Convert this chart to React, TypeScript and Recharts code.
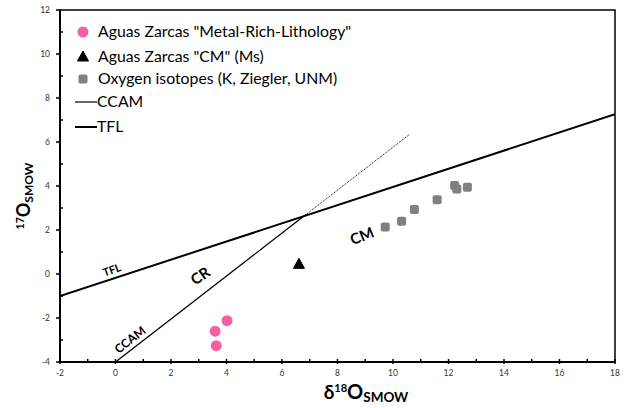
import React from 'react';
import { ScatterChart, Scatter, XAxis, YAxis, ReferenceArea } from 'recharts';

const xTicks = [-2, -1, 0, 1, 2, 3, 4, 5, 6, 7, 8, 9, 10, 11, 12, 13, 14, 15, 16, 17, 18];
const yTicks = [-4, -3, -2, -1, 0, 1, 2, 3, 4, 5, 6, 7, 8, 9, 10, 11, 12];

const metalRich = [
  { x: 3.59, y: -2.6 },
  { x: 3.63, y: -3.26 },
  { x: 4.02, y: -2.12 },
];
const cmMs = [{ x: 6.61, y: 0.44 }];
const oxygen = [
  { x: 9.72, y: 2.14 },
  { x: 10.31, y: 2.4 },
  { x: 10.77, y: 2.93 },
  { x: 11.59, y: 3.38 },
  { x: 12.22, y: 4.02 },
  { x: 12.3, y: 3.86 },
  { x: 12.68, y: 3.94 },
];
const ccamSolid = [
  { x: 0, y: -4 },
  { x: 6.85, y: 2.69 },
];
const ccamDotted = [
  { x: 6.85, y: 2.69 },
  { x: 10.6, y: 6.35 },
];
const tfl = [
  { x: -2, y: -1.0 },
  { x: 18, y: 7.26 },
];
const annotations = [
  { x: -0.14, y: 0.21, text: 'TFL', angle: -20, size: 11 },
  { x: 3.04, y: -0.06, text: 'CR', angle: -35, size: 15 },
  { x: 0.52, y: -2.98, text: 'CCAM', angle: -38, size: 12 },
  { x: 8.87, y: 1.76, text: 'CM', angle: -22, size: 15 },
];
const legendLabels = [
  'Aguas Zarcas "Metal-Rich-Lithology"',
  'Aguas Zarcas "CM" (Ms)',
  'Oxygen isotopes (K, Ziegler, UNM)',
  'CCAM',
  'TFL',
];

const FONT = 'Lato, "Open Sans", sans-serif';
const PINK = '#F7609F';
const GRAY = '#808080';

const XTick = (props: any) => {
  const { x, y, payload } = props;
  const v = payload.value;
  const major = v % 2 === 0;
  return (
    <g>
      <line x1={x} x2={x} y1={y - 3} y2={major ? y + 2 : y} stroke="#000" strokeWidth={1.5} />
      {major && (
        <text x={x} y={y + 14} textAnchor="middle" fontSize={8.5} fill="#333" fontFamily={FONT}>
          {v}
        </text>
      )}
    </g>
  );
};

const YTick = (props: any) => {
  const { x, y, payload } = props;
  const v = payload.value;
  const major = v % 2 === 0;
  return (
    <g>
      {major ? (
        <line x1={x - 4} x2={x} y1={y} y2={y} stroke="#000" strokeWidth={1.5} />
      ) : (
        <line x1={x} x2={x + 3} y1={y} y2={y} stroke="#000" strokeWidth={1.5} />
      )}
      {major && (
        <text x={x - 10} y={y + 3} textAnchor="end" fontSize={8.5} fill="#333" fontFamily={FONT}>
          {v}
        </text>
      )}
    </g>
  );
};

const NoShape = () => <g />;

const Circle = (p: any) => <circle cx={p.cx} cy={p.cy} r={5.5} fill={PINK} />;
const Triangle = (p: any) => (
  <path
    d={`M${p.cx},${p.cy - 6} L${p.cx + 5.5},${p.cy + 4} L${p.cx - 5.5},${p.cy + 4} Z`}
    fill="#000"
    stroke="#000"
    strokeLinejoin="round"
    strokeWidth={1}
  />
);
const Square = (p: any) => (
  <rect x={p.cx - 4.5} y={p.cy - 4.5} width={9} height={9} rx={2} fill={GRAY} />
);

const makeLabel = (a: any) => (p: any) => (
  <text
    x={p.cx}
    y={p.cy}
    transform={`rotate(${a.angle} ${p.cx} ${p.cy})`}
    textAnchor="middle"
    dominantBaseline="central"
    fontSize={a.size}
    fontWeight="bold"
    fontFamily={FONT}
    fill="#000"
  >
    {a.text}
  </text>
);

const LegendBox = () => (
  <svg
    width={430}
    height={145}
    style={{ position: 'absolute', left: 0, top: 0, display: 'block', pointerEvents: 'none' }}
  >
    <circle cx={83} cy={32} r={5.5} fill={PINK} />
    <path d="M83,51 L88.5,61 L77.5,61 Z" fill="#000" stroke="#000" strokeLinejoin="round" />
    <rect x={78.5} y={74.5} width={9} height={9} rx={2} fill={GRAY} />
    <line x1={75} x2={97} y1={102} y2={102} stroke="#000" strokeWidth={1.2} />
    <line x1={75} x2={97} y1={127} y2={127} stroke="#000" strokeWidth={2} />
    {legendLabels.map((t, i) => (
      <text
        key={t}
        x={i < 3 ? 98 : 97}
        y={[37, 62, 84, 107, 132][i]}
        fontSize={15.8}
        fontFamily={FONT}
        fill="#000"
      >
        {t}
      </text>
    ))}
  </svg>
);

const XLabel = (props: any) => {
  const vb = props.viewBox;
  const cx = vb.x + 306;
  const by = vb.y + 37;
  return (
    <text x={cx} y={by} textAnchor="middle" fontFamily={FONT} fontWeight="bold" fill="#000">
      <tspan fontSize={19}>δ</tspan>
      <tspan fontSize={11} dy={-7}>18</tspan>
      <tspan fontSize={20} dy={7}>O</tspan>
      <tspan fontSize={13.5} dy={3}>SMOW</tspan>
    </text>
  );
};

const YLabel = () => {
  const cx = 30;
  const cy = 196;
  return (
    <text
      x={cx}
      y={cy}
      transform={`rotate(-90 ${cx} ${cy})`}
      textAnchor="middle"
      fontFamily={FONT}
      fontWeight="bold"
      fill="#000"
    >
      <tspan fontSize={10.5} dy={-6}>17</tspan>
      <tspan fontSize={18} dy={6}>O</tspan>
      <tspan fontSize={12} dy={3}>SMOW</tspan>
    </text>
  );
};

export default function App() {
  return (
    <div style={{ position: 'absolute', left: 0, top: 0, width: 625, height: 408 }}>
      <ScatterChart
        width={625}
        height={408}
        margin={{ top: 10, right: 10, bottom: 0, left: 0 }}
        style={{ fontFamily: FONT }}
      >
        <XAxis
          type="number"
          dataKey="x"
          domain={[-2, 18]}
          ticks={xTicks}
          interval={0}
          allowDataOverflow
          height={46}
          axisLine={{ stroke: '#000', strokeWidth: 2 }}
          tickLine={false}
          tickSize={0}
          tickMargin={0}
          tick={<XTick />}
          label={<XLabel />}
        />
        <YAxis
          type="number"
          dataKey="y"
          domain={[-4, 12]}
          ticks={yTicks}
          interval={0}
          allowDataOverflow
          width={60}
          axisLine={{ stroke: '#000', strokeWidth: 2 }}
          tickLine={false}
          tickSize={0}
          tickMargin={0}
          tick={<YTick />}
          label={<YLabel />}
        />
        <ReferenceArea
          x1={-2}
          x2={18}
          y1={-4}
          y2={12}
          fill="none"
          stroke="#000"
          strokeWidth={1.5}
          ifOverflow="visible"
        />
        <Scatter data={tfl} line={{ stroke: '#000', strokeWidth: 2 }} shape={<NoShape />} isAnimationActive={false} legendType="none" />
        <Scatter data={ccamSolid} line={{ stroke: '#000', strokeWidth: 1.3 }} shape={<NoShape />} isAnimationActive={false} legendType="none" />
        <Scatter data={ccamDotted} line={{ stroke: '#000', strokeWidth: 1, strokeDasharray: '1 1' }} shape={<NoShape />} isAnimationActive={false} legendType="none" />
        <Scatter data={metalRich} shape={<Circle />} isAnimationActive={false} />
        <Scatter data={cmMs} shape={<Triangle />} isAnimationActive={false} />
        <Scatter data={oxygen} shape={<Square />} isAnimationActive={false} />
        {annotations.map((a) => (
          <Scatter key={a.text} data={[{ x: a.x, y: a.y }]} shape={makeLabel(a)} isAnimationActive={false} legendType="none" />
        ))}
      </ScatterChart>
      <LegendBox />
    </div>
  );
}
